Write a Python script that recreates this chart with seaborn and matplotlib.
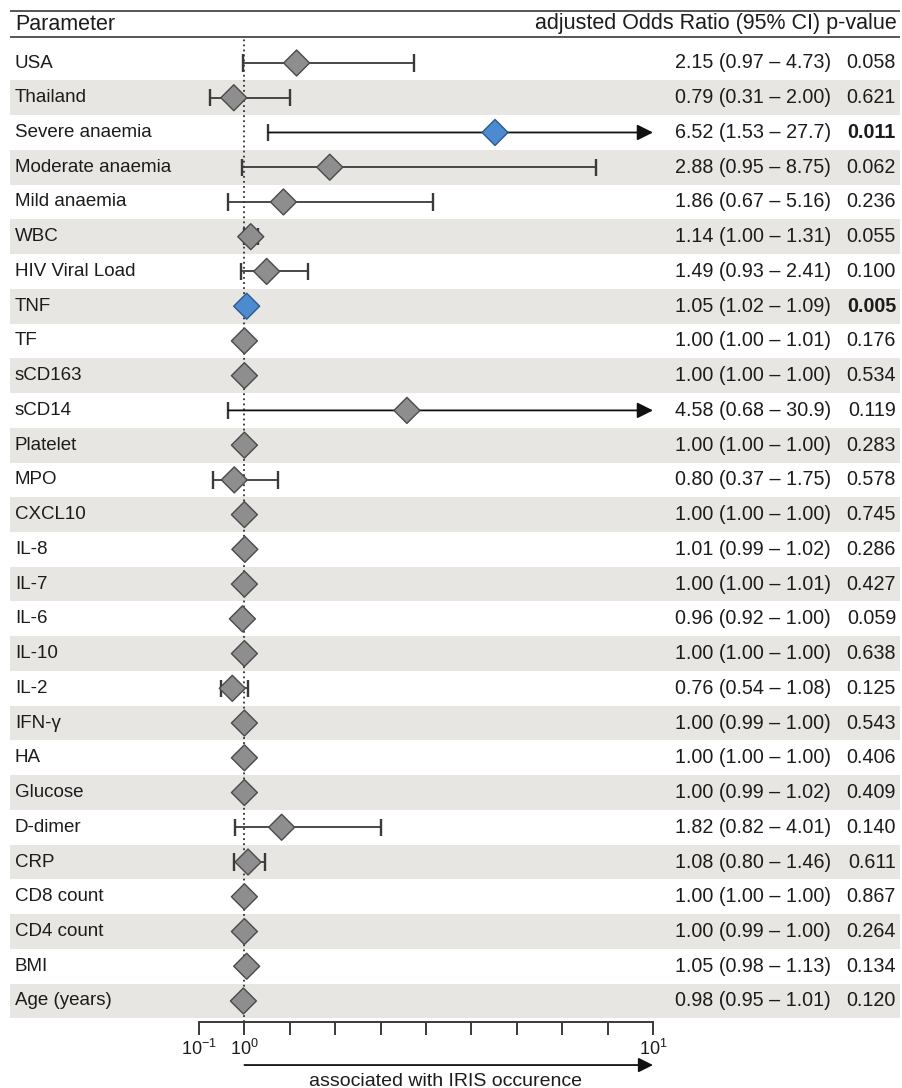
"""
Forest plot of adjusted odds ratios (95% CI) for IRIS occurrence.
"""

import numpy as np
import pandas as pd
import seaborn as sns
import matplotlib.pyplot as plt

# ---- data -------------------------------------------------------------
parameters = [
    'USA', 'Thailand', 'Severe anaemia', 'Moderate anaemia', 'Mild anaemia',
    'WBC', 'HIV Viral Load', 'TNF', 'TF', 'sCD163', 'sCD14', 'Platelet',
    'MPO', 'CXCL10', 'IL-8', 'IL-7', 'IL-6', 'IL-10', 'IL-2', 'IFN-γ',
    'HA', 'Glucose', 'D-dimer', 'CRP', 'CD8 count', 'CD4 count', 'BMI',
    'Age (years)',
]
odds_ratio = [2.15, 0.79, 6.52, 2.88, 1.86, 1.14, 1.49, 1.05, 1.00, 1.00,
              4.58, 1.00, 0.80, 1.00, 1.01, 1.00, 0.96, 1.00, 0.76, 1.00,
              1.00, 1.00, 1.82, 1.08, 1.00, 1.00, 1.05, 0.98]
ci_low = [0.97, 0.31, 1.53, 0.95, 0.67, 1.00, 0.93, 1.02, 1.00, 1.00,
          0.68, 1.00, 0.37, 1.00, 0.99, 1.00, 0.92, 1.00, 0.54, 0.99,
          1.00, 0.99, 0.82, 0.80, 1.00, 0.99, 0.98, 0.95]
ci_high = [4.73, 2.00, 27.7, 8.75, 5.16, 1.31, 2.41, 1.09, 1.01, 1.00,
           30.9, 1.00, 1.75, 1.00, 1.02, 1.01, 1.00, 1.00, 1.08, 1.00,
           1.00, 1.02, 4.01, 1.46, 1.00, 1.00, 1.13, 1.01]
p_values = ['0.058', '0.621', '0.011', '0.062', '0.236', '0.055', '0.100',
            '0.005', '0.176', '0.534', '0.119', '0.283', '0.578', '0.745',
            '0.286', '0.427', '0.059', '0.638', '0.125', '0.543', '0.406',
            '0.409', '0.140', '0.611', '0.867', '0.264', '0.134', '0.120']
significant = [p < 0.05 for p in map(float, p_values)]

axis_ticks = [0.1, 1, 10]
axis_ticklabels = ['$10^{-1}$', '$10^{0}$', '$10^{1}$']
minor_ticks = [2, 3, 4, 5, 6, 7, 8, 9]

df = pd.DataFrame({
    'parameter': parameters, 'or': odds_ratio, 'lo': ci_low, 'hi': ci_high,
    'p': p_values, 'sig': significant,
})
df['row'] = np.arange(len(df))

# ---- style ------------------------------------------------------------
sns.set_theme(style='white')
plt.rcParams['font.family'] = ['Liberation Sans', 'DejaVu Sans']
plt.rcParams['mathtext.fontset'] = 'custom'
plt.rcParams['mathtext.rm'] = 'Liberation Sans'
plt.rcParams['mathtext.it'] = 'Liberation Sans'

W, H = 902, 1088
ROW0, STEP = 63, 34.74          # pixel centre of first row, row pitch
TXT = '#1c1c1c'
BAND = '#e8e6e3'
LINE = '#3a3a3a'


def fwd(x):
    x = np.asarray(x, dtype=float)
    return np.where(x < 1, (x - 0.1) / 0.9, x)


def inv(y):
    y = np.asarray(y, dtype=float)
    return np.where(y < 1, 0.1 + 0.9 * y, y)


def fmt(v):
    return f'{v:.2f}' if v < 10 else f'{v:.1f}'


fig = plt.figure(figsize=(W / 100, H / 100), dpi=100)

# background axes: bands, header, text (x in pixels, y in row units)
bg = fig.add_axes([0, 0, 1, 1])
bg.set_xlim(0, W)
bg.set_ylim((H - ROW0) / STEP, -ROW0 / STEP)
bg.axis('off')

for r in df['row']:
    if r % 2 == 1:
        bg.fill_between([10, 900], r - 0.5, r + 0.5, color=BAND, lw=0, zorder=0)

for yy in [(11 - ROW0) / STEP, (37 - ROW0) / STEP]:
    bg.plot([10, 900], [yy, yy], color=LINE, lw=1.2, solid_capstyle='butt')

bg.text(15, (24 - ROW0) / STEP, 'Parameter', fontsize=15.5, color=TXT,
        va='center', ha='left')
bg.text(897, (24 - ROW0) / STEP, 'adjusted Odds Ratio (95% CI) p-value',
        fontsize=15.5, color=TXT, va='center', ha='right')

for _, d in df.iterrows():
    bg.text(15, d['row'], d['parameter'], fontsize=13.5, color=TXT,
            va='center', ha='left')
    bg.text(831, d['row'], f"{fmt(d['or'])} ({fmt(d['lo'])} – {fmt(d['hi'])})",
            fontsize=14.2, color=TXT, va='center', ha='right')
    bg.text(896, d['row'], d['p'], fontsize=14.2, color=TXT, va='center',
            ha='right', fontweight='bold' if d['sig'] else 'normal')

# forest axes
ax = fig.add_axes([199 / W, 1 - 1022 / H, 454 / W, (1022 - 37) / H])
ax.patch.set_alpha(0)
ax.set_xscale('function', functions=(fwd, inv))
ax.set_xlim(0.1, 10)
ax.set_ylim((1022 - ROW0) / STEP, (37 - ROW0) / STEP)

ax.axvline(1, color='#333333', ls=(0, (1.0, 1.8)), lw=1.3, zorder=1)

cap = 0.25
inside = df[df['hi'] <= 10]
outside = df[df['hi'] > 10]
ax.hlines(inside['row'], inside['lo'], inside['hi'], color=LINE, lw=1.3, zorder=2)
ax.vlines(df['lo'], df['row'] - cap, df['row'] + cap, color=LINE, lw=1.7, zorder=2)
ax.vlines(inside['hi'], inside['row'] - cap, inside['row'] + cap, color=LINE,
          lw=1.7, zorder=2)
for _, d in outside.iterrows():
    ax.annotate('', xy=(10, d['row']), xytext=(d['lo'], d['row']),
                arrowprops=dict(arrowstyle='-|>', color='#111111', lw=1.3,
                                mutation_scale=24, shrinkA=0, shrinkB=0),
                zorder=2)

sns.scatterplot(data=df, x='or', y='row', hue='sig', marker='D', s=175,
                palette={False: '#8e8e8e', True: '#4d8bd0'},
                linewidth=1.0, legend=False, ax=ax, zorder=3)
edge = np.where(df['sig'], '#2c5a8c', '#4a4a4a')
ax.collections[-1].set_edgecolors(edge)

for s in ['top', 'right', 'left']:
    ax.spines[s].set_visible(False)
ax.spines['bottom'].set_color(LINE)
ax.spines['bottom'].set_linewidth(1.4)
ax.set_yticks([])
ax.set_xticks(axis_ticks)
ax.set_xticklabels(axis_ticklabels)
ax.set_xticks(minor_ticks, minor=True)
ax.tick_params(axis='x', which='both', direction='out', length=9, width=1.4,
               color=LINE, bottom=True, labelsize=13, labelcolor=TXT, pad=3)
ax.tick_params(axis='x', which='minor', labelbottom=False)
ax.set_xlabel('')
ax.set_ylabel('')

ax.annotate('', xy=(10, -0.0437), xytext=(1, -0.0437),
            xycoords=('data', 'axes fraction'),
            textcoords=('data', 'axes fraction'),
            arrowprops=dict(arrowstyle='-|>', color='#111111', lw=1.3,
                            mutation_scale=22, shrinkA=0, shrinkB=0),
            annotation_clip=False)
ax.text(0.542, -0.0605, 'associated with IRIS occurence', transform=ax.transAxes,
        fontsize=14, color=TXT, ha='center', va='center')

fig.savefig('out.png', dpi=100)
plt.close(fig)
